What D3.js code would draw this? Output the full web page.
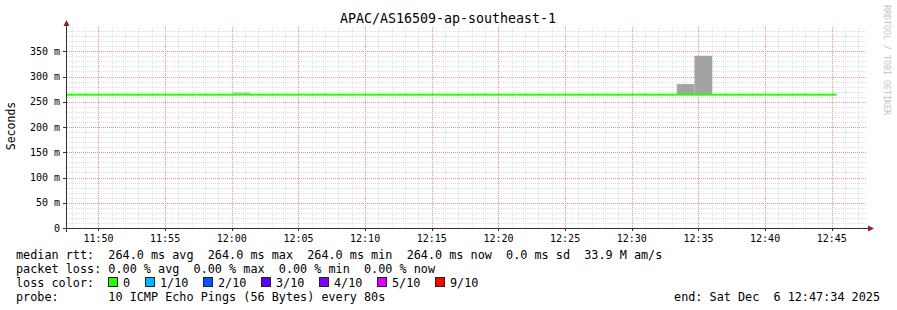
<!DOCTYPE html>
<html>
<head>
<meta charset="utf-8">
<script src="https://cdn.jsdelivr.net/npm/d3@7"></script>
<style>
  body { margin: 0; background: #fff; }
  svg { display: block; }
  text { font-family: "DejaVu Sans Mono", monospace; fill: #000; }
</style>
</head>
<body>
<svg id="chart" width="897" height="310"></svg>
<script>
"use strict";

// ---- data ----
const title = "APAC/AS16509-ap-southeast-1";
const rangeStart = "2025-12-06T11:47:34";
const rangeEnd = "2025-12-06T12:47:34";
const firstStepEnd = "2025-12-06T11:48:02";
const stepSeconds = 80;

// median rtt for each 80s step (ms)
const medianMs = [
  264.0, 264.0, 264.0, 264.0, 264.0, 264.0, 264.0, 264.0, 264.0, 264.0,
  264.0, 264.0, 264.0, 264.0, 264.0, 264.0, 264.0, 264.0, 264.0, 264.0,
  264.0, 264.0, 264.0, 264.0, 264.0, 264.0, 264.0, 264.0, 264.0, 264.0,
  264.0, 264.0, 264.0, 264.0, 264.0, 264.0, 264.0, 264.0, 264.0, 264.0,
  264.0, 264.0, 264.0, 264.0
];
// lost pings (of 10) for each step
const lossCount = [
  0, 0, 0, 0, 0, 0, 0, 0, 0, 0,
  0, 0, 0, 0, 0, 0, 0, 0, 0, 0,
  0, 0, 0, 0, 0, 0, 0, 0, 0, 0,
  0, 0, 0, 0, 0, 0, 0, 0, 0, 0,
  0, 0, 0, 0
];
// smoke: upper ping in the dense band / the faint band (ms)
const smokeDarkMs = [
  264, 264, 264, 264, 264, 264, 264, 264, 264, 264,
  264, 264, 264, 264, 264, 264, 264, 264, 264, 264,
  264, 264, 264, 264, 264, 264, 264, 264, 264, 264,
  264, 264, 264, 264, 264, 285, 341, 264, 264, 264,
  264, 264, 264, 264
];
const smokeLightMs = [
  264, 264, 264, 264, 264, 264, 264, 264, 264, 264,
  269, 264, 264, 264, 264, 264, 264, 264, 264, 264,
  264, 264, 264, 264, 264, 264, 264, 264, 264, 264,
  264, 264, 264, 264, 264, 264, 264, 264, 264, 264,
  264, 264, 264, 264
];

const yTickValues = [0, 0.05, 0.10, 0.15, 0.20, 0.25, 0.30, 0.35];
const yTickLabels = ["0", "50 m", "100 m", "150 m", "200 m", "250 m", "300 m", "350 m"];

const lossLabels = ["0", "1/10", "2/10", "3/10", "4/10", "5/10", "9/10"];
const lossLevels = [0, 1, 2, 3, 4, 5, 9];
const lossColors = ["#26ff00", "#00b8ff", "#0059ff", "#5e00ff", "#7e00ff", "#dd00ff", "#ff0000"];

const legendRtt = "median rtt:  264.0 ms avg  264.0 ms max  264.0 ms min  264.0 ms now  0.0 ms sd  33.9 M am/s";
const legendLoss = "packet loss: 0.00 % avg  0.00 % max  0.00 % min  0.00 % now";
const legendProbe = "probe:       10 ICMP Echo Pings (56 Bytes) every 80s";
const legendEnd = "end: Sat Dec  6 12:47:34 2025";

// ---- setup ----
const svg = d3.select("#chart");
const parse = d3.timeParse("%Y-%m-%dT%H:%M:%S");
const t0 = parse(rangeStart), t1 = parse(rangeEnd);

const x = d3.scaleTime().domain([t0, t1]).range([66, 866]);
const y = d3.scaleLinear().domain([0, 0.4]).range([228, 26]);

const stepEnd0 = parse(firstStepEnd);
const steps = medianMs.map(function(m, i) {
    let end = d3.timeSecond.offset(stepEnd0, i * stepSeconds);
    return {
        start: d3.timeSecond.offset(end, -stepSeconds),
        end: end,
        median: m / 1000,
        dark: smokeDarkMs[i] / 1000,
        light: smokeLightMs[i] / 1000,
        loss: lossCount[i]
    };
});

function lossColor(n) {
    let c = lossColors[0];
    lossLevels.forEach(function(l, i) { if (n >= l) c = lossColors[i]; });
    return c;
}

svg.append("clipPath").attr("id", "plot-clip")
    .append("rect").attr("x", 66).attr("y", 26).attr("width", 800).attr("height", 202);

// ---- grid ----
const grid = svg.append("g");
const minuteTicks = x.ticks(d3.timeMinute.every(1));
grid.selectAll("line.vminor")
    .data(minuteTicks.filter(function(d) { return d.getMinutes() % 5 !== 0; }))
    .enter().append("line")
        .attr("x1", function(d) { return Math.round(x(d)) + 0.5; })
        .attr("x2", function(d) { return Math.round(x(d)) + 0.5; })
        .attr("y1", 27).attr("y2", 228)
        .style("stroke", "#dedede").style("stroke-dasharray", "1,1");

const minorValues = d3.range(1, 40).map(function(i) { return i / 100; })
    .filter(function(v) { return Math.round(v * 100) % 5 !== 0; });
grid.selectAll("line.hminor")
    .data(minorValues)
    .enter().append("line")
        .attr("x1", 67).attr("x2", 866)
        .attr("y1", function(d) { return Math.round(y(d)) + 0.5; })
        .attr("y2", function(d) { return Math.round(y(d)) + 0.5; })
        .style("stroke", "#dedede").style("stroke-dasharray", "1,1");

grid.selectAll("line.vmajor")
    .data(x.ticks(d3.timeMinute.every(5)))
    .enter().append("line")
        .attr("x1", function(d) { return Math.round(x(d)) + 0.5; })
        .attr("x2", function(d) { return Math.round(x(d)) + 0.5; })
        .attr("y1", 27).attr("y2", 228)
        .style("stroke", "#ee9494").style("stroke-dasharray", "1,1");

grid.selectAll("line.hmajor")
    .data(yTickValues.slice(1))
    .enter().append("line")
        .attr("x1", 67).attr("x2", 866)
        .attr("y1", function(d) { return Math.round(y(d)) + 0.5; })
        .attr("y2", function(d) { return Math.round(y(d)) + 0.5; })
        .style("stroke", "#ee9494").style("stroke-dasharray", "1,1");

// ---- smoke + median ----
const plot = svg.append("g").attr("clip-path", "url(#plot-clip)");

plot.selectAll("rect.light")
    .data(steps.filter(function(d) { return d.light > d.median; }))
    .enter().append("rect")
        .attr("x", function(d) { return x(d.start); })
        .attr("width", function(d) { return x(d.end) - x(d.start); })
        .attr("y", function(d) { return y(d.light); })
        .attr("height", function(d) { return y(d.median) - y(d.light); })
        .style("fill", "#cccccc");

plot.selectAll("rect.dark")
    .data(steps.filter(function(d) { return d.dark > d.median; }))
    .enter().append("rect")
        .attr("x", function(d) { return x(d.start); })
        .attr("width", function(d) { return x(d.end) - x(d.start); })
        .attr("y", function(d) { return y(d.dark); })
        .attr("height", function(d) { return y(d.median) - y(d.dark); })
        .style("fill", "#a3a3a3");

plot.selectAll("path.median")
    .data(steps)
    .enter().append("path")
        .attr("d", function(d, i) {
            let p = "M" + x(d.start) + "," + y(d.median) + "H" + x(d.end);
            if (i < steps.length - 1) p += "V" + y(steps[i + 1].median);
            return p;
        })
        .style("fill", "none")
        .style("stroke", function(d) { return lossColor(d.loss); })
        .style("stroke-width", 2);

// ---- axes ----
const axes = svg.append("g");
axes.append("line").attr("x1", 66.5).attr("x2", 66.5).attr("y1", 232).attr("y2", 24)
    .style("stroke", "#333").style("stroke-width", 1);
axes.append("line").attr("x1", 63).attr("x2", 869).attr("y1", 228.5).attr("y2", 228.5)
    .style("stroke", "#333").style("stroke-width", 1);
axes.append("path").attr("d", "M63.5,26L69.5,26L66.5,20Z").style("fill", "#9a1d1d");
axes.append("path").attr("d", "M868,225.5L868,231.5L874,228.5Z").style("fill", "#9a1d1d");

axes.selectAll("line.ytick")
    .data(yTickValues.slice(1))
    .enter().append("line")
        .attr("x1", 63).attr("x2", 66)
        .attr("y1", function(d) { return Math.round(y(d)) + 0.5; })
        .attr("y2", function(d) { return Math.round(y(d)) + 0.5; })
        .style("stroke", "#333");

axes.selectAll("line.xtick")
    .data(x.ticks(d3.timeMinute.every(5)))
    .enter().append("line")
        .attr("x1", function(d) { return Math.round(x(d)) + 0.5; })
        .attr("x2", function(d) { return Math.round(x(d)) + 0.5; })
        .attr("y1", 229).attr("y2", 231)
        .style("stroke", "#333");

axes.selectAll("text.ylab")
    .data(yTickValues)
    .enter().append("text")
        .attr("x", 60)
        .attr("y", function(d) { return y(d) + 3.5; })
        .attr("text-anchor", "end")
        .style("font-size", "10px")
        .text(function(d, i) { return yTickLabels[i]; });

const fmt = d3.timeFormat("%H:%M");
axes.selectAll("text.xlab")
    .data(x.ticks(d3.timeMinute.every(5)))
    .enter().append("text")
        .attr("x", function(d) { return x(d); })
        .attr("y", 242)
        .attr("text-anchor", "middle")
        .style("font-size", "10px")
        .text(fmt);

svg.append("text")
    .attr("transform", "translate(15,126) rotate(-90)")
    .attr("text-anchor", "middle")
    .style("font-size", "11.5px")
    .text("Seconds");

svg.append("text")
    .attr("x", 448).attr("y", 23)
    .attr("text-anchor", "middle")
    .style("font-size", "13.3px")
    .text(title);

svg.append("text")
    .attr("transform", "translate(884,5) rotate(90)")
    .style("font-size", "8.3px")
    .style("fill", "#c4c4c4")
    .text("RRDTOOL / TOBI OETIKER");

// ---- legend ----
const legend = svg.append("g").style("font-size", "11.8px").style("white-space", "pre");
legend.append("text").attr("x", 16).attr("y", 258.5).attr("xml:space", "preserve").text(legendRtt);
legend.append("text").attr("x", 16).attr("y", 272.5).attr("xml:space", "preserve").text(legendLoss);
legend.append("text").attr("x", 16).attr("y", 286.5).text("loss color:");
legend.append("text").attr("x", 16).attr("y", 300.5).attr("xml:space", "preserve").text(legendProbe);
legend.append("text").attr("x", 880).attr("y", 300.5).attr("text-anchor", "end")
    .attr("xml:space", "preserve").text(legendEnd);

let cursor = 108.5;
lossLabels.forEach(function(lab, i) {
    legend.append("rect")
        .attr("x", cursor).attr("y", 277.5).attr("width", 9).attr("height", 9)
        .style("fill", lossColors[i]).style("stroke", "#222").style("stroke-width", 1);
    let t = legend.append("text").attr("x", cursor + 14.5).attr("y", 286.5).text(lab);
    cursor = cursor + 14.5 + t.node().getComputedTextLength() + 15;
    cursor = Math.round(cursor) + 0.5;
});
</script>
</body>
</html>
